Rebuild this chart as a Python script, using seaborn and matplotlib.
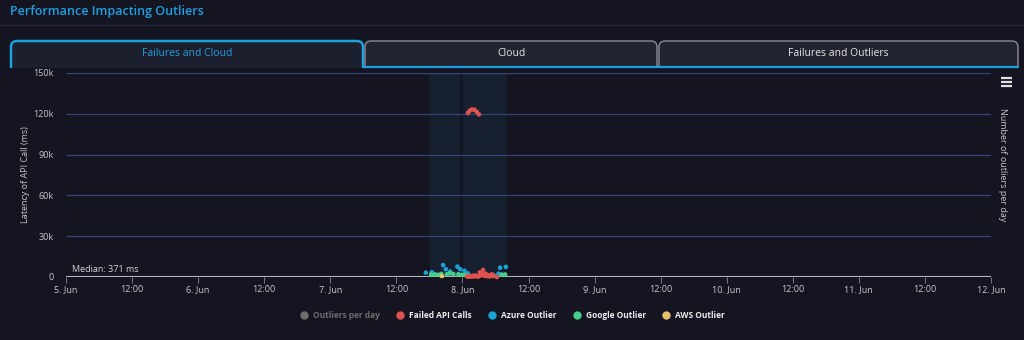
import pandas as pd
import matplotlib
matplotlib.use("Agg")
import matplotlib.pyplot as plt
import matplotlib.dates as mdates
from matplotlib.patches import FancyBboxPatch, Rectangle
from matplotlib.lines import Line2D
import seaborn as sns

# data
failed_times = ["2023-06-08 01:00", "2023-06-08 01:20", "2023-06-08 01:45", "2023-06-08 02:10",
                "2023-06-08 02:35", "2023-06-08 03:00",
                "2023-06-08 00:50", "2023-06-08 01:05", "2023-06-08 01:20", "2023-06-08 01:35",
                "2023-06-08 01:50", "2023-06-08 02:05", "2023-06-08 02:20", "2023-06-08 02:35",
                "2023-06-08 02:50", "2023-06-08 03:05", "2023-06-08 03:10", "2023-06-08 03:20",
                "2023-06-08 03:30", "2023-06-08 03:45", "2023-06-08 03:55", "2023-06-08 04:05",
                "2023-06-08 04:15", "2023-06-08 04:25", "2023-06-08 04:40", "2023-06-08 04:55",
                "2023-06-08 05:05", "2023-06-08 05:20", "2023-06-08 05:35", "2023-06-08 06:15"]
failed_ms = [120600, 122300, 123200, 123000, 121500, 119600,
             500, 200, 700, 300, 900, 400, 1100, 600, 300, 800, 3400, 1500,
             2600, 5100, 900, 1700, 2400, 600, 1300, 400, 1100, 2000, 700, 0]

azure_times = ["2023-06-07 17:21", "2023-06-07 18:26", "2023-06-07 20:30", "2023-06-07 20:59",
               "2023-06-07 21:46", "2023-06-07 23:05", "2023-06-07 23:35", "2023-06-08 00:22",
               "2023-06-08 00:59", "2023-06-08 06:33", "2023-06-08 06:51", "2023-06-08 07:54"]
azure_ms = [3200, 3500, 8800, 5700, 4000, 7600, 5700, 4600, 2700, 2400, 6800, 7400]

google_times = ["2023-06-07 18:19", "2023-06-07 19:03", "2023-06-07 19:40", "2023-06-07 20:10",
                "2023-06-07 21:10", "2023-06-07 21:46", "2023-06-07 22:22", "2023-06-07 23:16",
                "2023-06-07 23:53", "2023-06-08 00:29", "2023-06-08 05:38", "2023-06-08 07:09",
                "2023-06-08 07:45"]
google_ms = [1800, 1900, 1600, 2300, 2000, 2700, 2200, 2000, 1600, 1500, 1300, 1800, 1800]

aws_times = ["2023-06-07 20:16"]
aws_ms = [700]

band_starts = ["2023-06-07 18:10", "2023-06-07 19:00", "2023-06-08 00:05"]
band_ends = ["2023-06-07 19:00", "2023-06-07 23:35", "2023-06-08 07:50"]

median_ms = 371
series_names = ["Outliers per day", "Failed API Calls", "Azure Outlier", "Google Outlier", "AWS Outlier"]
colors = {"Outliers per day": "#6e6e6e", "Failed API Calls": "#e0524f", "Azure Outlier": "#1aa3d4",
          "Google Outlier": "#46cf8a", "AWS Outlier": "#e9c06c"}

df = pd.concat([
    pd.DataFrame({"time": azure_times, "ms": azure_ms, "series": "Azure Outlier"}),
    pd.DataFrame({"time": google_times, "ms": google_ms, "series": "Google Outlier"}),
    pd.DataFrame({"time": aws_times, "ms": aws_ms, "series": "AWS Outlier"}),
    pd.DataFrame({"time": failed_times, "ms": failed_ms, "series": "Failed API Calls"}),
])
df["time"] = pd.to_datetime(df["time"])

BG = "#141520"
GRID = "#34457a"
TXT = "#c8c8cc"

sns.set_theme(style="dark")
plt.rcParams["font.family"] = ["Open Sans", "DejaVu Sans"]

fig = plt.figure(figsize=(10.24, 3.4), dpi=100, facecolor=BG)

# page decoration in pixel coordinates
bg = fig.add_axes([0, 0, 1, 1])
bg.set_xlim(0, 1024)
bg.set_ylim(340, 0)
bg.axis("off")
bg.set_facecolor(BG)
bg.text(10, 12, "Performance Impacting Outliers", color="#1e9fe0", fontsize=9,
        fontweight="semibold", va="center", ha="left")
bg.plot([0, 1024], [24.5, 24.5], color="#23263a", lw=1)

tabs = [("Failures and Cloud", 11, 363, True), ("Cloud", 365, 657, False),
        ("Failures and Outliers", 659, 1018, False)]
for label, x0, x1, active in tabs:
    box = FancyBboxPatch((x0, 41), x1 - x0, 36, boxstyle="round,pad=0,rounding_size=6",
                         fc="#1c1f2d" if active else "#222531",
                         ec="#1ca0e0" if active else "#8a8d98",
                         lw=1.8 if active else 1.0, zorder=1)
    bg.add_patch(box)
    bg.text((x0 + x1) / 2, 54, label, color="#1e9fe0" if active else "#e6e6e6",
            fontsize=7.5, ha="center", va="center", zorder=3)
bg.add_patch(Rectangle((0, 67.5), 1024, 15, fc=BG, ec="none", zorder=2))
bg.plot([363, 1018], [67, 67], color="#1ca0e0", lw=1.6, zorder=3)

# hamburger icon
for yy in (78, 82, 86):
    bg.plot([1001, 1012], [yy, yy], color="#e0e0e0", lw=1.6, solid_capstyle="butt")

# main chart
ax = fig.add_axes([66 / 1024, 63 / 340, 925 / 1024, 204 / 340])
ax.patch.set_alpha(0)

for s, e in zip(band_starts, band_ends):
    ax.axvspan(pd.Timestamp(s), pd.Timestamp(e), color="#182c3f", alpha=0.5, lw=0, zorder=0)

sns.scatterplot(data=df, x="time", y="ms", hue="series", palette=colors, s=11,
                linewidth=0, legend=False, ax=ax, clip_on=False, zorder=4)

ax.set_xlim(pd.Timestamp("2023-06-05"), pd.Timestamp("2023-06-12"))
ax.set_ylim(0, 150000)
ax.set_yticks([0, 30000, 60000, 90000, 120000, 150000])
ax.set_yticklabels(["0", "30k", "60k", "90k", "120k", "150k"])
ax.grid(axis="y", color=GRID, lw=0.9)
ax.grid(axis="x", visible=False)
for sp in ax.spines.values():
    sp.set_visible(False)
ax.axhline(0, color="#b4b4bc", lw=1.2, zorder=3)
ax.axhline(median_ms, color="#b4b4bc", lw=0.8, zorder=3)
ax.text(pd.Timestamp("2023-06-05 01:10"), 2200, f"Median: {median_ms} ms", color="#d8d8dc",
        fontsize=6.5, va="bottom", ha="left")

ax.xaxis.set_major_locator(mdates.HourLocator(byhour=[0, 12]))


def fmt(x, pos):
    d = mdates.num2date(x)
    return f"{d.day}. Jun" if d.hour == 0 else "12:00"


ax.xaxis.set_major_formatter(plt.FuncFormatter(fmt))
ax.tick_params(axis="x", colors="#8a8a92", labelcolor=TXT, labelsize=6.5, length=4, width=0.6,
               direction="out", pad=2, bottom=True)
ax.tick_params(axis="y", labelcolor=TXT, labelsize=6.5, length=0, pad=9)
ax.set_xlabel("")
ax.set_ylabel("Latency of API Call (ms)", color=TXT, fontsize=6.5, labelpad=2)
fig.text(1003 / 1024, 1 - 165 / 340, "Number of outliers per day", color=TXT, fontsize=6.5,
         rotation=270, ha="center", va="center")

# legend
handles = [Line2D([], [], marker="o", ls="", ms=6, mec="none", mfc=colors[n]) for n in series_names]
leg = fig.legend(handles, series_names, loc="center", bbox_to_anchor=(0.4985, 1 - 315 / 340),
                 ncol=5, frameon=False, handletextpad=0.1, columnspacing=1.4,
                 prop={"weight": "bold", "size": 6})
for i, t in enumerate(leg.get_texts()):
    t.set_color("#6e6e6e" if i == 0 else "#ededed")

fig.savefig("out.png", dpi=100, facecolor=BG)
